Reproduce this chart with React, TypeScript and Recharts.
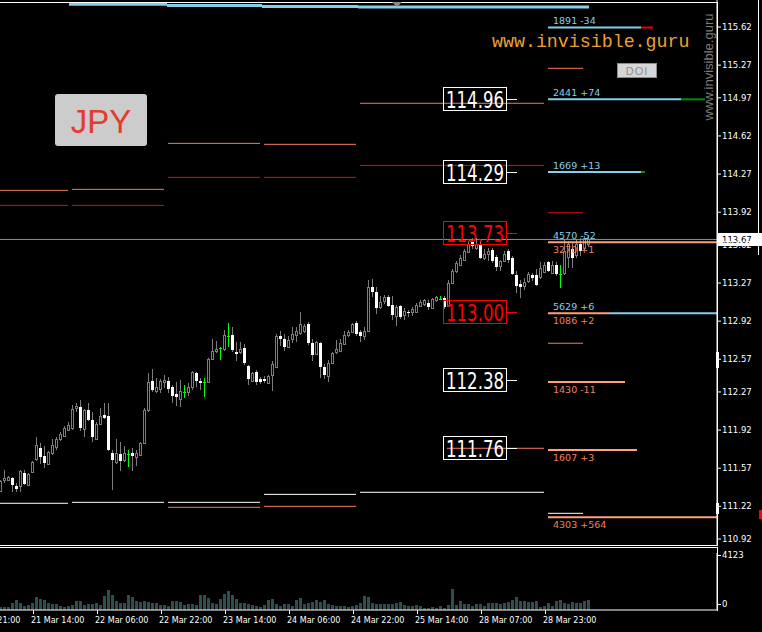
import React from 'react';
import { ComposedChart, Bar, XAxis, YAxis, ReferenceLine, ReferenceDot } from 'recharts';

// ---- candle data (H1 bars, index 0..147) ----
const opens = [111.36,111.46,111.46,111.48,111.41,111.40,111.53,111.42,111.54,111.65,111.76,111.68,111.61,111.71,111.77,111.83,111.87,111.92,111.94,112.12,112.13,111.93,112.10,112.01,111.84,111.98,112.06,112.05,111.71,111.63,111.70,111.65,111.70,111.71,111.67,111.69,111.80,112.10,112.37,112.28,112.30,112.36,112.37,112.32,112.25,112.21,112.27,112.27,112.31,112.44,112.37,112.36,112.36,112.58,112.64,112.67,112.66,112.78,112.79,112.64,112.63,112.67,112.51,112.37,112.45,112.39,112.39,112.36,112.43,112.50,112.78,112.76,112.69,112.75,112.79,112.81,112.83,112.89,112.72,112.62,112.72,112.50,112.42,112.54,112.63,112.65,112.71,112.79,112.82,112.90,112.82,112.78,112.83,113.23,113.19,113.05,113.10,113.14,113.07,112.97,113.06,112.97,113.00,113.00,113.01,113.06,113.07,113.09,113.04,113.11,113.12,113.13,113.06,113.27,113.38,113.44,113.48,113.56,113.65,113.59,113.62,113.50,113.53,113.57,113.51,113.42,113.48,113.56,113.50,113.34,113.26,113.24,113.29,113.34,113.34,113.33,113.38,113.46,113.37,113.44,113.35,113.36,113.51,113.58,113.53,113.63,113.59,113.62];
const highs = [111.46,111.55,111.50,111.49,111.43,111.55,111.55,111.53,111.64,111.86,111.80,111.77,111.73,111.84,111.86,111.90,111.96,111.99,112.15,112.17,112.20,112.11,112.17,112.09,111.99,112.12,112.17,112.17,111.74,111.84,111.81,111.77,111.74,111.76,111.74,111.81,112.12,112.44,112.48,112.40,112.39,112.43,112.41,112.33,112.36,112.38,112.33,112.35,112.46,112.45,112.40,112.40,112.58,112.76,112.74,112.68,112.84,112.90,112.87,112.73,112.73,112.71,112.52,112.45,112.47,112.41,112.42,112.43,112.55,112.80,112.83,112.80,112.78,112.87,112.87,113.00,112.89,112.91,112.76,112.74,112.73,112.53,112.56,112.64,112.75,112.76,112.83,112.84,112.90,112.92,112.84,112.87,113.30,113.31,113.23,113.15,113.16,113.16,113.15,113.07,113.07,113.04,113.02,113.05,113.09,113.11,113.12,113.11,113.13,113.15,113.15,113.15,113.30,113.40,113.47,113.53,113.58,113.66,113.68,113.68,113.66,113.58,113.59,113.59,113.53,113.48,113.56,113.58,113.52,113.38,113.30,113.32,113.37,113.36,113.40,113.46,113.46,113.47,113.47,113.46,113.44,113.67,113.66,113.64,113.67,113.68,113.70,113.71];
const lows = [111.35,111.43,111.45,111.35,111.35,111.35,111.42,111.41,111.53,111.64,111.61,111.57,111.60,111.69,111.74,111.82,111.86,111.91,111.92,112.09,111.91,111.86,112.00,111.81,111.83,111.97,112.02,111.73,111.37,111.61,111.54,111.63,111.58,111.54,111.59,111.68,111.79,112.09,112.27,112.26,112.26,112.31,112.26,112.17,112.14,112.13,112.21,112.23,112.29,112.32,112.29,112.22,112.35,112.57,112.63,112.56,112.65,112.68,112.64,112.55,112.62,112.52,112.33,112.36,112.33,112.34,112.35,112.35,112.28,112.49,112.69,112.65,112.68,112.72,112.73,112.79,112.81,112.70,112.55,112.61,112.40,112.39,112.36,112.53,112.62,112.64,112.70,112.77,112.81,112.78,112.73,112.75,112.82,113.14,112.99,113.03,113.08,113.05,112.93,112.88,112.94,112.93,112.96,112.97,113.00,113.05,113.06,113.02,113.03,113.10,113.11,113.03,113.12,113.26,113.36,113.43,113.47,113.55,113.58,113.57,113.49,113.48,113.47,113.45,113.38,113.38,113.46,113.45,113.34,113.18,113.13,113.21,113.27,113.29,113.24,113.31,113.36,113.37,113.36,113.33,113.22,113.34,113.41,113.41,113.50,113.52,113.57,113.60];
const closes = [111.45,111.48,111.49,111.42,111.38,111.54,111.43,111.52,111.63,111.78,111.68,111.62,111.72,111.78,111.84,111.88,111.94,111.97,112.11,112.14,111.94,112.10,112.01,111.85,111.98,112.05,112.03,111.74,111.65,111.71,111.64,111.71,111.70,111.68,111.71,111.80,112.10,112.36,112.29,112.32,112.37,112.38,112.30,112.24,112.22,112.28,112.27,112.32,112.45,112.37,112.35,112.36,112.57,112.65,112.66,112.67,112.79,112.78,112.65,112.62,112.66,112.53,112.39,112.44,112.36,112.36,112.37,112.42,112.53,112.78,112.75,112.69,112.75,112.80,112.83,112.89,112.88,112.72,112.61,112.73,112.50,112.43,112.54,112.63,112.66,112.72,112.79,112.82,112.89,112.80,112.78,112.83,113.23,113.18,113.04,113.10,113.14,113.06,112.98,113.05,112.96,113.01,112.99,113.03,113.07,113.10,113.11,113.05,113.12,113.14,113.12,113.05,113.27,113.38,113.45,113.50,113.56,113.63,113.61,113.63,113.50,113.54,113.56,113.47,113.42,113.47,113.54,113.48,113.35,113.24,113.23,113.28,113.35,113.31,113.25,113.41,113.44,113.38,113.44,113.36,113.35,113.56,113.63,113.50,113.63,113.57,113.68,113.67];
const volumes = [195,240,240,505,745,505,265,360,505,960,795,745,505,455,455,310,215,310,360,650,650,360,455,455,505,360,1030,1465,1085,650,505,505,1085,940,650,600,650,600,505,505,360,360,265,650,650,555,360,455,455,360,1085,1085,845,505,455,795,1180,1370,1085,795,505,505,455,360,265,215,360,745,795,455,265,455,455,310,700,890,455,505,555,745,555,700,455,360,310,310,310,215,310,360,505,990,940,505,455,410,455,455,455,505,555,360,310,310,360,265,125,165,215,165,265,125,360,1540,360,650,455,410,265,410,410,265,505,505,505,455,505,600,700,940,650,650,600,600,650,215,310,505,310,650,745,505,410,600,505,505,650,700];

// ---- axes ----
const priceTicks = [115.62,115.27,114.97,114.62,114.27,113.92,113.62,113.27,112.92,112.57,112.27,111.92,111.57,111.22,110.92];
const timeTickIdx = [-8, 8, 24, 40, 56, 72, 88, 104, 120, 136];
const timeLabels = ['20 Mar 21:00','21 Mar 14:00','22 Mar 06:00','22 Mar 22:00','23 Mar 14:00','24 Mar 06:00','24 Mar 22:00','25 Mar 14:00','28 Mar 07:00','28 Mar 23:00'];
const volTicks = [0, 4123];
const currentPrice = 113.67;

// ---- key levels (boxed) ----
const keyLevels = [114.96, 114.29, 113.73, 113.00, 112.38, 111.76];
const keyLevelKinds = ['white', 'white', 'red', 'red', 'white', 'white'];

// ---- thin level segments: [fromBar, toBar, price, kind] ----
const levelFrom = [-0.25,17.75,-0.25,17.75,41.75,65.75,41.75,65.75,89.75,89.75,111.5,-0.25,17.75,41.75,41.75,65.75,65.75,89.75,136.75,136.75,136.75,136.75];
const levelTo =   [16.75,40.75,16.75,40.75,64.75,88.75,64.75,88.75,135.75,135.75,135.75,16.75,40.75,64.75,64.75,88.75,88.75,135.75,145.5,145.5,145.5,145.5];
const levelPrice = [114.121,114.130,113.983,113.983,114.552,114.543,114.240,114.240,114.350,114.920,111.753,111.248,111.257,111.257,111.211,111.330,111.220,111.349,115.241,113.915,112.717,111.156];
const levelKind = ['coral','coral','red','red','coral','coral','red','red','red','coral','coral','white','white','white','coral','white','coral','white','coral','red','coral','white'];

// ---- thick bars: open-interest and top band ----
const oiFrom = [17,41.5,65.25,89.25,136.75,160,136.75,170,136.75,160,136.75,136.75,152,136.75,136.75,136.75];
const oiTo =   [41.5,65.25,89.25,147,160,163,170,176,160,161,179,152,179,156,159,179];
const oiPrice = [115.828,115.817,115.808,115.804,115.615,115.615,114.956,114.956,114.289,114.289,113.644,112.992,112.992,112.361,111.737,111.119];
const oiKind = ['call','call','call','call','call','down','call','up','call','up','put','put','call','put','put','put'];

// ---- open-interest labels ----
const oiLabelPrice = [115.615,114.956,114.289,113.644,113.644,112.992,112.992,112.361,111.737,111.119];
const oiLabelText = ['1891 -34','2441 +74','1669 +13','4570 -52','3270 +1','5629 +6','1086 +2','1430 -11','1607 +3','4303 +564'];
const oiLabelSide = ['call','call','call','call','put','call','put','put','put','put'];

const COLORS: Record<string, string> = {
  coral: '#F47A5C', red: '#D81010', white: '#FFFFFF', call: '#87CEEB', put: '#FFA07A', up: '#0A8A0A', down: '#F00000',
};

const rows = opens.map((o, i) => ({
  i, open: o, high: highs[i], low: lows[i], close: closes[i], range: [lows[i], highs[i]], vol: volumes[i],
}));

const Candle = (p: any) => {
  const { x, y, width, height, payload } = p;
  if (x == null || !payload) return null;
  const { open, close, high, low } = payload;
  const top = Math.min(y, y + height);
  const h = Math.abs(height);
  const k = h / (high - low);
  const py = (v: number) => top + (high - v) * k;
  const c = Math.floor(x + width / 2);
  const wx = c + 0.5;
  if (open === close) {
    const yy = Math.round(py(open)) + 0.5;
    return (
      <g shapeRendering="crispEdges">
        <line x1={wx} x2={wx} y1={top} y2={top + h} stroke="#00FF00" />
        <line x1={c - 1} x2={c + 2} y1={yy} y2={yy} stroke="#00FF00" />
      </g>
    );
  }
  const yo = py(open);
  const yc = py(close);
  const bt = Math.min(yo, yc);
  const bh = Math.max(1, Math.abs(yo - yc));
  if (close > open) {
    return (
      <g shapeRendering="crispEdges">
        <line x1={wx} x2={wx} y1={top} y2={top + h} stroke="#7C7C7C" />
        <rect x={c - 0.5} y={Math.round(bt) + 0.5} width={2} height={Math.max(1, Math.round(bh))} fill="#000" stroke="#7C7C7C" />
      </g>
    );
  }
  return (
    <g shapeRendering="crispEdges">
      <line x1={wx} x2={wx} y1={top} y2={top + h} stroke="#7C7C7C" />
      <rect x={c - 1} y={Math.round(bt)} width={3} height={Math.max(1, Math.round(bh))} fill="#FFFFFF" />
    </g>
  );
};

const VolBar = (p: any) => {
  const { x, y, width, height } = p;
  if (x == null) return null;
  const c = Math.floor(x + width / 2);
  return <rect x={c - 1} y={y} width={3} height={height} fill="#2F4F4F" shapeRendering="crispEdges" />;
};

const TimeTick = (p: any) => {
  const { x, y, payload } = p;
  const idx = timeTickIdx.indexOf(payload.value);
  return (
    <g>
      <line x1={x + 0.5} x2={x + 0.5} y1={y - 6} y2={y - 2} stroke="#fff" />
      <text x={x - 2} y={y + 7} fill="#FFFFFF" fontSize={8} fontFamily="DejaVu Sans" textAnchor="start">{timeLabels[idx]}</text>
    </g>
  );
};

const VolTick = (p: any) => {
  const { y, payload } = p;
  const cy = payload.value === 0 ? y - 6 : y + 2;
  return (
    <g>
      <line x1={717} x2={721} y1={cy + 0.5} y2={cy + 0.5} stroke="#fff" />
      <text x={722} y={cy + 3} fill="#FFFFFF" fontSize={8.5} fontFamily="DejaVu Sans">{payload.value}</text>
    </g>
  );
};

const fontNarrow = '"Liberation Sans Narrow", "DejaVu Sans Condensed", "Liberation Sans", sans-serif';

export default function App() {
  const xDomain: [number, number] = [-0.25, 179];
  return (
    <div style={{ position: 'fixed', left: 0, top: 0, width: 762, height: 632, background: '#000', overflow: 'hidden' }}>
      <div style={{ position: 'absolute', left: 0, top: 0 }}>
        <ComposedChart width={762} height={546} data={rows} margin={{ top: 0, right: 0, bottom: 0, left: 0 }}>
          <XAxis dataKey="i" type="number" domain={xDomain} allowDataOverflow hide />
          <YAxis
            orientation="right"
            width={45}
            type="number"
            domain={[110.856, 115.868]}
            allowDataOverflow
            ticks={priceTicks}
            interval={0}
            tickFormatter={(v: number) => v.toFixed(2)}
            tick={{ fill: '#FFFFFF', fontSize: 8.5, fontFamily: 'DejaVu Sans' }}
            tickSize={4}
            tickMargin={1}
            tickLine={{ stroke: '#FFFFFF' }}
            axisLine={{ stroke: '#FFFFFF' }}
          />
          {levelPrice.map((p, k) => (
            <ReferenceLine key={'lv' + k} segment={[{ x: levelFrom[k], y: p }, { x: levelTo[k], y: p }]} stroke={COLORS[levelKind[k]]} strokeWidth={1} ifOverflow="visible" />
          ))}
          <ReferenceLine y={currentPrice} stroke="#8A9099" strokeWidth={1} />
          <Bar dataKey="range" barSize={3} shape={Candle} isAnimationActive={false} />
          {oiPrice.map((p, k) => (
            <ReferenceLine key={'oi' + k} segment={[{ x: oiFrom[k], y: p }, { x: oiTo[k], y: p }]} stroke={COLORS[oiKind[k]]} strokeWidth={k < 4 ? 3 : 2} ifOverflow="visible" />
          ))}
          {oiLabelPrice.map((p, k) => (
            <ReferenceDot key={'ol' + k} x={138} y={p} ifOverflow="visible"
              shape={(s: any) => (
                <text x={s.cx} y={oiLabelSide[k] === 'call' ? s.cy - 3.5 : s.cy + 10.5} fill={oiLabelSide[k] === 'call' ? '#87CEEB' : '#F08060'} fontSize={9.5} fontFamily="DejaVu Sans">{oiLabelText[k]}</text>
              )} />
          ))}
          {keyLevels.map((p, k) => (
            <ReferenceDot key={'kl' + k} x={118.5} y={p} ifOverflow="visible"
              shape={(s: any) => {
                const col = keyLevelKinds[k] === 'red' ? '#FF0000' : '#FFFFFF';
                const cx = Math.round(s.cx);
                const cy = Math.round(s.cy);
                return (
                  <g>
                    <rect x={cx - 31.5} y={cy - 11.5} width={63} height={23} fill="none" stroke={col} />
                    <line x1={cx + 32} x2={cx + 42} y1={cy + 0.5} y2={cy + 0.5} stroke={col} />
                    <text x={cx - 29} y={cy + 8.5} fill={col} fontSize={23} fontFamily={fontNarrow} textLength={58} lengthAdjust="spacingAndGlyphs">{p.toFixed(2)}</text>
                  </g>
                );
              }} />
          ))}
          <ReferenceDot x={179} y={currentPrice} ifOverflow="visible"
            shape={(s: any) => (
              <g>
                <rect x={s.cx + 1} y={Math.round(s.cy) - 6} width={45} height={13} fill="#FFFFFF" />
                <text x={s.cx + 5} y={Math.round(s.cy) + 4} fill="#000" fontSize={8.5} fontFamily="DejaVu Sans">{currentPrice.toFixed(2)}</text>
              </g>
            )} />
        </ComposedChart>
      </div>
      <div style={{ position: 'absolute', left: 0, top: 547 }}>
        <ComposedChart width={762} height={85} data={rows} margin={{ top: 6, right: 0, bottom: 0, left: 0 }}>
          <XAxis dataKey="i" type="number" domain={xDomain} allowDataOverflow ticks={timeTickIdx} interval={0}
            height={22} tickSize={4} tickLine={false} axisLine={{ stroke: '#FFFFFF' }} tick={TimeTick} />
          <YAxis orientation="right" width={45} type="number" domain={[0, 4123]} ticks={volTicks} interval={0}
            tickLine={false} axisLine={{ stroke: '#FFFFFF' }} tick={VolTick} />
          <Bar dataKey="vol" barSize={3} shape={VolBar} isAnimationActive={false} />
        </ComposedChart>
      </div>
      <svg width={762} height={632} style={{ position: 'absolute', left: 0, top: 0, pointerEvents: 'none' }}>
        <g shapeRendering="crispEdges">
          <line x1={0} x2={717} y1={2.5} y2={2.5} stroke="#FFFFFF" />
          <line x1={0} x2={718} y1={545.5} y2={545.5} stroke="#FFFFFF" />
          <line x1={0} x2={718} y1={547.5} y2={547.5} stroke="#FFFFFF" />
          <line x1={717.5} x2={717.5} y1={2} y2={546} stroke="#FFFFFF" />
          <line x1={717.5} x2={717.5} y1={547} y2={611} stroke="#FFFFFF" />
          <line x1={758.5} x2={758.5} y1={0} y2={255} stroke="#FFFFFF" />
          <rect x={716} y={352} width={3} height={16} fill="#FFFFFF" />
          <rect x={716} y={503} width={3} height={11} fill="#FFFFFF" />
          <rect x={759} y={510} width={3} height={9} fill="#FF0000" />
        </g>
        <polygon points="392,2 402,2 397,7" fill="#8A8A8A" />
        <rect x={55} y={94} width={92} height={52} rx={3} fill="#CCCCCC" />
        <text x={101} y={133} textAnchor="middle" fill="#E53A2E" fontSize={33} fontFamily="Liberation Sans">JPY</text>
        <text x={492} y={47} fill="#EBA033" fontSize={18.3} fontFamily="Liberation Mono">www.invisible.guru</text>
        <text transform="translate(712.5,67) rotate(-90)" textAnchor="middle" fill="#7E7E7E" fontSize={13} fontFamily="Liberation Sans">www.invisible.guru</text>
        <rect x={617.5} y={63.5} width={39} height={14} fill="#D6D6D6" stroke="#8C8C8C" />
        <text x={637} y={75} textAnchor="middle" fill="#8E8E8E" fontSize={11} letterSpacing={1} fontFamily="Liberation Sans">DOI</text>
      </svg>
    </div>
  );
}
